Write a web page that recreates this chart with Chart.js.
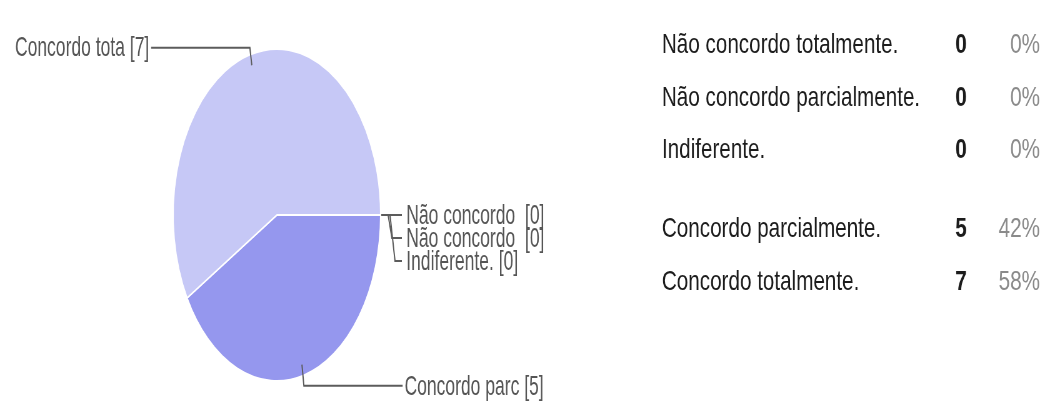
<!DOCTYPE html>
<html>
<head>
<meta charset="utf-8">
<script src="https://cdn.jsdelivr.net/npm/chart.js@4.4.1/dist/chart.umd.min.js"></script>
<style>
html,body{margin:0;padding:0;background:#fff;overflow:hidden;width:1041px;height:401px}
#wrap{position:absolute;left:0;top:0;width:1666px;height:401px;transform:scaleX(0.625);transform-origin:0 0}
#c{position:absolute;left:0;top:0}
</style>
</head>
<body>
<div id="wrap"><canvas id="c" width="1666" height="401"></canvas></div>
<script>
// ---- data ----
const categories = ["Não concordo totalmente.", "Não concordo parcialmente.", "Indiferente.", "Concordo parcialmente.", "Concordo totalmente."];
const pieLabels = ["Não concordo ", "Não concordo ", "Indiferente.", "Concordo parc", "Concordo tota"];
const counts = [0, 0, 0, 5, 7];
const sliceColors = ["#3366cc", "#6f72e6", "#b3b5f2", "#9597ee", "#c6c8f6"];

const total = counts.reduce((a, b) => a + b, 0);
const percents = counts.map(v => Math.round(v / total * 100) + "%");

const FONT = '"Liberation Sans", Arial, Helvetica, sans-serif';

const leaderPlugin = {
  id: 'leaders',
  afterDatasetsDraw(chart) {
    const ctx = chart.ctx;
    const meta = chart.getDatasetMeta(0);
    ctx.save();
    ctx.strokeStyle = '#5c5c5c';
    ctx.lineWidth = 2;
    ctx.fillStyle = '#555555';
    ctx.font = '28px ' + FONT;
    ctx.textBaseline = 'middle';
    let zeroIdx = 0;
    meta.data.forEach((arc, i) => {
      const p = arc.getProps(['x', 'y', 'startAngle', 'endAngle', 'outerRadius'], true);
      const mid = (p.startAngle + p.endAngle) / 2;
      const r = p.outerRadius + 1;
      const ax = p.x + Math.cos(mid) * r;
      const ay = p.y + Math.sin(mid) * r;
      const txt = pieLabels[i] + ' [' + counts[i] + ']';
      ctx.beginPath();
      if (counts[i] === 0) {
        const k = zeroIdx++;
        const ly = ay + k * 23;
        const sx = ax + [0, 11, 14][k];
        const ex = ax + [0, 17, 22][k];
        ctx.moveTo(sx, ay);
        ctx.lineTo(ex, ly);
        ctx.lineTo(ax + 33, ly);
        ctx.stroke();
        ctx.textAlign = 'left';
        ctx.fillText(txt, ax + 40, ly + 1);
      } else {
        const inX = p.x + Math.cos(mid) * (r - 12);
        const inY = p.y + Math.sin(mid) * (r - 12);
        const up = Math.sin(mid) < 0;
        const ly = up ? ay - 6 : ay + 9.5;
        const dir = Math.cos(mid) < 0 ? -1 : 1;
        const ex = ax + dir * 158;
        ctx.moveTo(inX, inY);
        ctx.lineTo(ax, ly);
        ctx.lineTo(ex, ly);
        ctx.stroke();
        ctx.textAlign = dir < 0 ? 'right' : 'left';
        ctx.fillText(txt, ex + dir * 3, ly + 1);
      }
    });
    ctx.restore();

    // summary table
    ctx.save();
    ctx.textBaseline = 'alphabetic';
    const labelX = 1059, countX = 1547, pctX = 1664;
    categories.forEach((cat, i) => {
      const base = i < 3 ? 53 + i * 52.5 : 237 + (i - 3) * 53;
      ctx.save();
      ctx.translate(labelX, base);
      ctx.scale(1.18, 1);
      ctx.textAlign = 'left';
      ctx.fillStyle = '#1c1c1c';
      ctx.font = '28px ' + FONT;
      ctx.fillText(cat, 0, 0);
      ctx.restore();

      ctx.save();
      ctx.translate(countX, base);
      ctx.scale(1.18, 1);
      ctx.textAlign = 'right';
      ctx.fillStyle = '#1c1c1c';
      ctx.font = 'bold 28px ' + FONT;
      ctx.fillText(String(counts[i]), 0, 0);
      ctx.restore();

      ctx.save();
      ctx.translate(pctX, base);
      ctx.scale(1.18, 1);
      ctx.textAlign = 'right';
      ctx.fillStyle = '#8a8a8a';
      ctx.font = '28px ' + FONT;
      ctx.fillText(percents[i], 0, 0);
      ctx.restore();
    });
    ctx.restore();
  }
};

new Chart(document.getElementById('c'), {
  type: 'pie',
  data: {
    labels: categories,
    datasets: [{
      data: counts,
      backgroundColor: sliceColors,
      borderColor: '#ffffff',
      borderWidth: 2
    }]
  },
  options: {
    responsive: false,
    animation: false,
    events: [],
    rotation: 90,
    layout: { padding: { left: 276, right: 1056, top: 48, bottom: 19 } },
    plugins: { legend: { display: false }, tooltip: { enabled: false } }
  },
  plugins: [leaderPlugin]
});
</script>
</body>
</html>
